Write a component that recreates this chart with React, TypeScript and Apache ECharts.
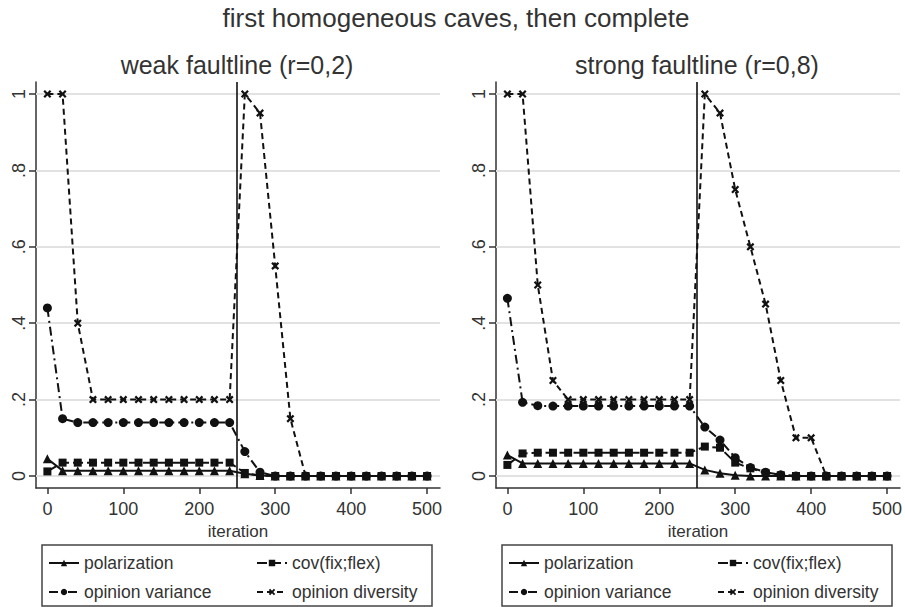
import React, { useEffect, useRef } from "react";
import * as echarts from "echarts";

// ---------- data ----------
const iterations = [0, 20, 40, 60, 80, 100, 120, 140, 160, 180, 200, 220, 240, 260, 280, 300, 320, 340, 360, 380, 400, 420, 440, 460, 480, 500];

const weakPolarization = [0.045, 0.014, 0.014, 0.014, 0.014, 0.014, 0.014, 0.014, 0.014, 0.014, 0.014, 0.014, 0.014, 0.006, 0.001, 0, 0, 0, 0, 0, 0, 0, 0, 0, 0, 0];
const weakCov = [0.012, 0.035, 0.035, 0.035, 0.035, 0.035, 0.035, 0.035, 0.035, 0.035, 0.035, 0.035, 0.035, 0.008, 0.001, 0, 0, 0, 0, 0, 0, 0, 0, 0, 0, 0];
const weakVariance = [0.44, 0.15, 0.14, 0.14, 0.14, 0.14, 0.14, 0.14, 0.14, 0.14, 0.14, 0.14, 0.14, 0.064, 0.01, 0, 0, 0, 0, 0, 0, 0, 0, 0, 0, 0];
const weakDiversity = [1, 1, 0.4, 0.2, 0.2, 0.2, 0.2, 0.2, 0.2, 0.2, 0.2, 0.2, 0.2, 1, 0.95, 0.55, 0.15, 0, 0, 0, 0, 0, 0, 0, 0, 0];

const strongPolarization = [0.055, 0.033, 0.033, 0.033, 0.033, 0.033, 0.033, 0.033, 0.033, 0.033, 0.033, 0.033, 0.033, 0.016, 0.007, 0.002, 0, 0, 0, 0, 0, 0, 0, 0, 0, 0];
const strongCov = [0.029, 0.059, 0.061, 0.061, 0.061, 0.061, 0.061, 0.061, 0.061, 0.061, 0.061, 0.061, 0.061, 0.077, 0.074, 0.035, 0.02, 0.008, 0.002, 0, 0, 0, 0, 0, 0, 0];
const strongVariance = [0.465, 0.193, 0.184, 0.183, 0.183, 0.183, 0.183, 0.183, 0.183, 0.183, 0.183, 0.183, 0.183, 0.128, 0.094, 0.048, 0.022, 0.01, 0.003, 0, 0, 0, 0, 0, 0, 0];
const strongDiversity = [1, 1, 0.5, 0.25, 0.2, 0.2, 0.2, 0.2, 0.2, 0.2, 0.2, 0.2, 0.2, 1, 0.95, 0.75, 0.6, 0.45, 0.25, 0.1, 0.1, 0, 0, 0, 0, 0];

const seriesNames = ["polarization", "cov(fix;flex)", "opinion variance", "opinion diversity"];
const xTicks = [0, 100, 200, 300, 400, 500];
const yTicks = [0, 0.2, 0.4, 0.6, 0.8, 1];
const switchIteration = 250;
const mainTitle = "first homogeneous caves, then complete";
const panelTitles = ["weak faultline (r=0,2)", "strong faultline (r=0,8)"];
const xAxisName = "iteration";

// ---------- styling ----------
const FONT = "'Liberation Sans', Arial, Helvetica, sans-serif";
const TEXT = "#333333";
const INK = "#111111";
const X_SYMBOL = "path://M0,2 L2,0 L5,3 L8,0 L10,2 L7,5 L10,8 L8,10 L5,7 L2,10 L0,8 L3,5 Z";

const markStyles = [
  { symbol: "triangle", size: 9, dash: "solid" as any },
  { symbol: "rect", size: 8, dash: [10, 4] },
  { symbol: "circle", size: 9, dash: [9, 4, 2, 4] },
  { symbol: X_SYMBOL, size: 8, dash: [6, 4] },
];

const gridLayout = [
  { left: 36, top: 82, width: 404, height: 406 },
  { left: 496, top: 82, width: 404, height: 406 },
];

const legendCols = [
  [48, 256],
  [508, 717],
];
const legendRows = [554, 583];
const legendBoxes = [
  { x: 42, y: 545, w: 390, h: 61 },
  { x: 502, y: 545, w: 390, h: 61 },
];

function pairs(values: number[]) {
  return iterations.map((it, i) => [it, values[i]]);
}

export default function App() {
  const ref = useRef<HTMLDivElement>(null);

  useEffect(() => {
    if (!ref.current) return;
    const chart = echarts.init(ref.current, null, { renderer: "svg" });

    const panels = [
      [weakPolarization, weakCov, weakVariance, weakDiversity],
      [strongPolarization, strongCov, strongVariance, strongDiversity],
    ];

    const series: any[] = [];
    panels.forEach((vals, p) => {
      vals.forEach((v, k) => {
        const st = markStyles[k];
        const s: any = {
          type: "line",
          name: seriesNames[k],
          xAxisIndex: p,
          yAxisIndex: p,
          data: pairs(v),
          symbol: st.symbol,
          symbolSize: st.size,
          showAllSymbol: true,
          lineStyle: { color: INK, width: 2, type: st.dash },
          itemStyle: { color: INK, borderWidth: 0 },
          emphasis: { disabled: true },
          z: 3,
        };
        if (k === 0) {
          s.markLine = {
            silent: true,
            z: 1,
            symbol: ["none", "none"],
            label: { show: false },
            lineStyle: { color: "#e2e2e2", width: 2, type: "solid" },
            emphasis: { disabled: true },
            data: yTicks.map((y) => ({ yAxis: y })),
          };
        }
        if (k === 1) {
          s.markLine = {
            silent: true,
            z: 4,
            symbol: ["none", "none"],
            label: { show: false },
            lineStyle: { color: INK, width: 1.6, type: "solid" },
            emphasis: { disabled: true },
            data: [{ xAxis: switchIteration }],
          };
        }
        series.push(s);
      });
    });

    const legends: any[] = [];
    legendCols.forEach((cols) => {
      seriesNames.forEach((nm, k) => {
        legends.push({
          data: [nm],
          left: cols[k % 2],
          top: legendRows[Math.floor(k / 2)],
          padding: 0,
          itemWidth: 30,
          itemHeight: 8,
          itemGap: 0,
          selectedMode: false,
          textStyle: { fontSize: 17.5, color: TEXT, fontFamily: FONT },
        });
      });
    });

    const graphics: any[] = [
      {
        type: "text",
        x: 456,
        y: 18,
        style: { text: mainTitle, fontSize: 26, fill: TEXT, fontFamily: FONT, textAlign: "center", textVerticalAlign: "middle" },
      },
      {
        type: "text",
        x: 237,
        y: 65,
        style: { text: panelTitles[0], fontSize: 25, fill: TEXT, fontFamily: FONT, textAlign: "center", textVerticalAlign: "middle" },
      },
      {
        type: "text",
        x: 697,
        y: 65,
        style: { text: panelTitles[1], fontSize: 25, fill: TEXT, fontFamily: FONT, textAlign: "center", textVerticalAlign: "middle" },
      },
    ];
    legendBoxes.forEach((b) => {
      graphics.push({
        type: "rect",
        shape: { x: b.x, y: b.y, width: b.w, height: b.h },
        style: { fill: "none", stroke: "#444", lineWidth: 1.5 },
        silent: true,
      });
    });

    const axisLineStyle = { color: "#333", width: 1.5 };

    chart.setOption({
      animation: false,
      backgroundColor: "#ffffff",
      textStyle: { fontFamily: FONT },
      grid: gridLayout.map((g) => ({ ...g, containLabel: false, outerBoundsMode: "none" })),
      xAxis: gridLayout.map((_, p) => ({
        type: "value",
        gridIndex: p,
        min: -15,
        max: 517,
        axisLine: { show: true, onZero: false, lineStyle: axisLineStyle },
        axisTick: { show: true, length: 6, customValues: xTicks, lineStyle: axisLineStyle },
        axisLabel: { customValues: xTicks, fontSize: 18, color: TEXT, margin: 12, fontFamily: FONT },
        splitLine: { show: false },
        name: xAxisName,
        nameLocation: "middle",
        nameGap: 21,
        nameTextStyle: { fontSize: 17, color: TEXT, fontFamily: FONT },
      })),
      yAxis: gridLayout.map((_, p) => ({
        type: "value",
        gridIndex: p,
        min: -0.0314,
        max: 1.0314,
        axisLine: { show: true, onZero: false, lineStyle: axisLineStyle },
        axisTick: { show: true, length: 7, customValues: yTicks, lineStyle: axisLineStyle },
        axisLabel: {
          customValues: yTicks,
          rotate: 90,
          fontSize: 18,
          color: TEXT,
          margin: 8,
          fontFamily: FONT,
          formatter: (v: number) => {
            if (Math.abs(v) < 1e-9) return "0";
            if (Math.abs(v - 1) < 1e-9) return "1";
            return "." + Math.round(v * 10);
          },
        },
        splitLine: { show: false },
      })),
      legend: legends,
      series,
      graphic: graphics,
    });

    return () => chart.dispose();
  }, []);

  return (
    <div
      ref={ref}
      style={{ position: "fixed", left: 0, top: 0, width: 905, height: 607, background: "#fff" }}
    />
  );
}
